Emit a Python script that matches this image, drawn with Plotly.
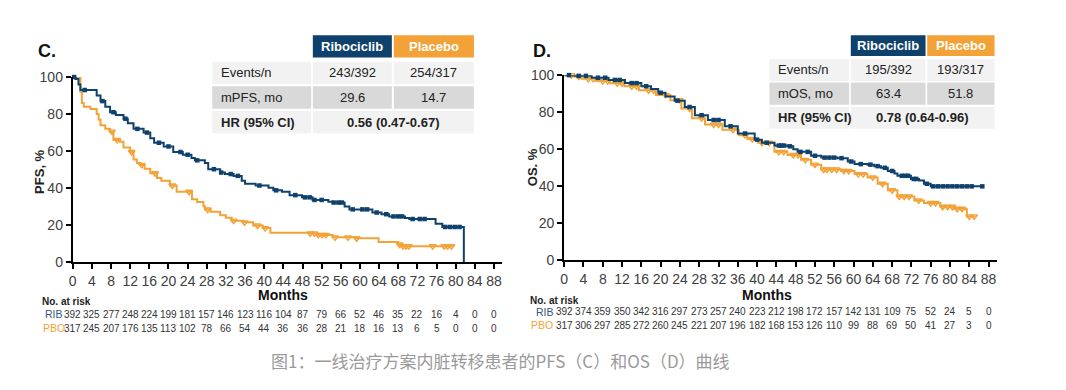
import numpy as np
import plotly.graph_objects as go

NAVY = "#0e416b"
ORANGE = "#f3a237"
W, H = 1066, 390

# ---------------- data ----------------
months_ticks = list(range(0, 89, 4))

pfs_rib_t = [0, 0.6, 1.2, 1.6, 5.0, 5.8, 6.8, 7.8, 9.0, 10.6, 11.5, 12.7, 14.8, 16.2, 17.0, 19.0, 21.0, 23.0, 24.8,
             25.5, 27.6, 28.3, 30.8, 31.8, 33.6, 35.3, 36.0, 38.2, 40.9, 41.9, 43.7, 45.3, 47.9, 50.1, 53.4, 54.3,
             56.8, 57.8, 62.6, 64.5, 66.1, 69.4, 70.3, 75.8, 77.2, 81.7, 81.7]
pfs_rib_s = [100, 99, 96, 93, 90, 87, 84, 81, 79.5, 77.5, 75, 72, 70, 67, 64.5, 62.5, 59.5, 58, 56.2,
             55, 53.6, 50.2, 48.4, 47.6, 46.6, 44, 42.3, 41.4, 40.2, 38.8, 38, 36.2, 35, 33.6, 32.6, 32.2,
             30, 28.5, 26.8, 25.9, 24.7, 23.8, 23.3, 20.7, 19, 19, 0]
pfs_rib_cens = [0.3, 2.5, 6.2, 8.5, 11, 13.5, 15.5, 18, 20, 22.5, 24, 26, 29.5, 31, 33, 34.5, 39, 42.5, 46.5,
                48.5, 49.5, 50.5, 52, 54.5, 55.5, 56.2, 58.5, 60.5, 61.5, 63.5, 65.5, 67, 68, 68.8, 71, 72.5,
                73.5, 77.8, 78.8, 79.8, 80.8]

pfs_pbo_t = [0, 1.6, 1.9, 2.3, 3.7, 5.0, 5.4, 5.8, 6.8, 7.8, 8.5, 9.9, 10.6, 12.0, 12.7, 13.4, 14.1, 15.0, 16.2,
             17.6, 18.5, 20.3, 21.7, 24.9, 26.0, 27.3, 27.6, 28.8, 30.8, 32.0, 33.2, 35.6, 37.7, 39.7, 41.3,
             49.5, 51.0, 54.3, 59.1, 63.9, 68.0, 68.8, 79.4]
pfs_pbo_s = [100, 92, 86, 84, 82.8, 80, 77, 74, 72, 70.5, 66, 65, 62, 59.5, 55.5, 53.5, 52.5, 50.5, 48,
             45.5, 44, 41.4, 38, 34, 32.5, 30.2, 28.4, 27.2, 25.3, 24, 22.4, 21.5, 19.8, 18.4, 15.9,
             15.5, 14.7, 13.4, 12.9, 10.9, 9.5, 8.6, 8.6]
pfs_pbo_cens = [8.2, 9.3, 12.3, 14.4, 17.2, 20.8, 24.3, 28.2, 33.6, 35.9, 38.6, 40.2, 49.6, 50.5, 51.3, 52.1,
                52.9, 54.8, 57.5, 59.3, 68.3, 69.0, 69.6, 70.2, 75.2, 77.6, 78.3, 79.1]

os_rib_t = [0, 2.3, 5.7, 9.2, 12.6, 16.0, 18.0, 19.5, 21.0, 22.9, 25.0, 27.1, 29.8, 33.3, 36.0, 39.5, 41.0, 43.6,
            46.3, 47.5, 48.4, 51.2, 53.3, 56.7, 58.8, 60.2, 62.9, 64.3, 65.7, 67.1, 68.5, 69.1, 71.9, 73.6,
            74.6, 76.0, 86.7]
os_rib_s = [100, 99.6, 98.6, 97.4, 95.7, 94, 92.5, 90.5, 88.5, 86.2, 82.8, 78.4, 75.8, 72.4, 68.5, 65.2, 63.5, 62,
            61.6, 60, 58.6, 56.5, 55.5, 55.2, 53.4, 52, 51.7, 50.9, 50, 48.3, 47, 45.7, 44, 43.1,
            41.4, 40, 40]
os_rib_cens = [1, 3, 4.5, 7, 8.5, 10.5, 11.5, 14, 15, 17, 20, 23.5, 26, 28.5, 31, 32, 34.5, 37.5, 40, 42,
               44.5, 45, 45.6, 46.8, 49, 50.5, 52, 54, 55, 56, 57.5, 59.5, 61.5, 63.5, 65, 66.5, 68, 70,
               70.7, 71.3, 72.5, 73, 75.2, 76.5, 77.5, 78.5, 79.5, 80.5, 81.5, 82.5, 83.5, 84.5, 86.7]

os_pbo_t = [0, 1.8, 3.6, 6.5, 9.5, 12.5, 15.5, 19.0, 22.0, 24.3, 26.5, 29.2, 32.8, 36.2, 38.0, 40.2, 43.6,
            46.3, 49.1, 51.2, 53.3, 57.4, 60.2, 62.9, 65.0, 67.1, 69.1, 72.6, 74.6, 78.0, 80.8, 83.2, 83.5,
            85.3]
os_pbo_s = [100, 99.2, 98, 96.8, 95.6, 94, 91.8, 89.3, 86.5, 82, 76.8, 73.3, 70.5, 67.6, 65.5, 63.5, 58.6,
            56.9, 54.3, 51.7, 49.1, 48.3, 46.6, 44.8, 41.4, 37.9, 34.5, 32.4, 31, 29, 27.9, 27.6, 23.8,
            23.8]
os_pbo_cens = [1.5, 3, 5, 6, 8, 9, 11, 12, 14, 15, 17.5, 18.5, 21, 24, 26, 28.5, 31, 32, 35, 37.5, 39, 41,
               42.5, 44.5, 45.5, 47.5, 48.5, 50, 52, 53.8, 54.5, 55.5, 56.5, 58, 59, 61, 62, 64, 66, 68,
               69.5, 70.5, 71.5, 73.5, 76, 77, 78.5, 79.5, 80.5, 81.5, 82.5, 84, 85]

risk_pfs_rib = [392, 325, 277, 248, 224, 199, 181, 157, 146, 123, 116, 104, 87, 79, 66, 52, 46, 35, 22, 16, 4, 0, 0]
risk_pfs_pbo = [317, 245, 207, 176, 135, 113, 102, 78, 66, 54, 44, 36, 36, 28, 21, 18, 16, 13, 6, 5, 0, 0, 0]
risk_os_rib = [392, 374, 359, 350, 342, 316, 297, 273, 257, 240, 223, 212, 198, 172, 157, 142, 131, 109, 75, 52, 24, 5, 0]
risk_os_pbo = [317, 306, 297, 285, 272, 260, 245, 221, 207, 196, 182, 168, 153, 126, 110, 99, 88, 69, 50, 41, 27, 3, 0]

table_cols = ["Ribociclib", "Placebo"]
pfs_rows = ["Events/n", "mPFS, mo", "HR (95% CI)"]
pfs_vals = [["243/392", "254/317"], ["29.6", "14.7"]]
pfs_hr = "0.56 (0.47-0.67)"
os_rows = ["Events/n", "mOS, mo", "HR (95% CI)"]
os_vals = [["195/392", "193/317"], ["63.4", "51.8"]]
os_hr = "0.78 (0.64-0.96)"

caption = "图1：一线治疗方案内脏转移患者的PFS（C）和OS（D）曲线"

# ---------------- figure ----------------
fig = go.Figure()


def step_at(t, s, c):
    t = np.asarray(t); s = np.asarray(s)
    idx = np.searchsorted(t, np.asarray(c), side="right") - 1
    return s[np.clip(idx, 0, len(s) - 1)]


def add_km(t, s, cens, color, sym, xa, ya):
    fig.add_trace(go.Scatter(x=t, y=s, mode="lines", line=dict(color=color, width=2, shape="hv"),
                             xaxis=xa, yaxis=ya, cliponaxis=False, showlegend=False, hoverinfo="skip"))
    if sym == "sq":
        mk = dict(symbol="square", size=4.5, color=color, line=dict(width=0))
    else:
        mk = dict(symbol="triangle-down-open", size=6, color=color, line=dict(width=1.4, color=color))
    fig.add_trace(go.Scatter(x=cens, y=step_at(t, s, cens), mode="markers", marker=mk,
                             xaxis=xa, yaxis=ya, cliponaxis=False, showlegend=False, hoverinfo="skip"))


add_km(pfs_pbo_t, pfs_pbo_s, pfs_pbo_cens, ORANGE, "tri", "x", "y")
add_km(pfs_rib_t, pfs_rib_s, pfs_rib_cens, NAVY, "sq", "x", "y")
add_km(os_pbo_t, os_pbo_s, os_pbo_cens, ORANGE, "tri", "x2", "y2")
add_km(os_rib_t, os_rib_s, os_rib_cens, NAVY, "sq", "x2", "y2")

FONT = "Liberation Sans, Arial, sans-serif"
NARROW = "Liberation Sans Narrow, Arial Narrow, Liberation Sans, Arial, sans-serif"

axis_common = dict(showline=True, linecolor="black", linewidth=2, ticks="outside", ticklen=5,
                   tickwidth=1.5, tickcolor="black", showgrid=False, zeroline=False,
                   tickfont=dict(family=FONT, size=14, color="#404040"))


def px(x):
    return x / W


def py(y):
    return 1 - y / H


fig.update_layout(
    width=W, height=H, margin=dict(l=0, r=0, t=0, b=0),
    paper_bgcolor="white", plot_bgcolor="white",
    xaxis=dict(domain=[px(69), px(500)], range=[0, 89.7], tickvals=months_ticks, anchor="y", **axis_common),
    yaxis=dict(domain=[py(265), py(72)], range=[0, 100], tickvals=[0, 20, 40, 60, 80, 100], anchor="x", **axis_common),
    xaxis2=dict(domain=[px(562.3), px(997)], range=[0, 89.8], tickvals=months_ticks, anchor="y2", **axis_common),
    yaxis2=dict(domain=[py(263.3), py(70)], range=[0, 100], tickvals=[0, 20, 40, 60, 80, 100], anchor="x2", **axis_common),
)

ann = []
shapes = []


def text(x, y, s, size=12, color="#222", bold=False, xanchor="center", family=FONT, angle=0, xref="paper", xshift=0):
    ann.append(dict(x=x if xref != "paper" else px(x), y=py(y), xref=xref, yref="paper", text=f"<b>{s}</b>" if bold else s,
                    showarrow=False, xanchor=xanchor, yanchor="middle", textangle=angle, xshift=xshift,
                    borderpad=0, font=dict(family=family, size=size, color=color)))


def rect(x0, y0, x1, y1, color):
    shapes.append(dict(type="rect", xref="paper", yref="paper", x0=px(x0), x1=px(x1), y0=py(y1), y1=py(y0),
                       fillcolor=color, line=dict(width=0), layer="below"))


def table(lx0, lx1, c1x0, c1x1, c2x0, c2x1, hy, rows_y, rows, vals, hr):
    rect(c1x0, hy[0], c1x1, hy[1], NAVY)
    rect(c2x0, hy[0], c2x1, hy[1], ORANGE)
    hm = (hy[0] + hy[1]) / 2
    text((c1x0 + c1x1) / 2, hm, table_cols[0], size=13, color="white", bold=True, family=NARROW)
    text((c2x0 + c2x1) / 2, hm, table_cols[1], size=13, color="white", bold=True, family=NARROW)
    fills = ["#f2f2f2", "#d9d9d9", "#f2f2f2"]
    for i, (y0, y1) in enumerate(rows_y):
        ym = (y0 + y1) / 2
        rect(lx0, y0, lx1, y1, fills[i])
        text(lx0 + 8, ym, rows[i], size=13, bold=(i == 2), xanchor="left", family=NARROW)
        if i < 2:
            rect(c1x0, y0, c1x1, y1, fills[i])
            rect(c2x0, y0, c2x1, y1, fills[i])
            text((c1x0 + c1x1) / 2, ym, vals[i][0], size=13, family=NARROW)
            text((c2x0 + c2x1) / 2, ym, vals[i][1], size=13, family=NARROW)
        else:
            rect(c1x0, y0, c2x1, y1, fills[i])
            text((c1x0 + c2x1) / 2, ym, hr, size=13, bold=True, family=NARROW)


table(209, 308.3, 310, 389.3, 391.3, 471.7, (28.3, 51.7),
      [(56, 79.3), (81.7, 105), (107.3, 130.7)], pfs_rows, pfs_vals, pfs_hr)
table(768.3, 848.3, 850, 925, 926.7, 994.3, (28.3, 50),
      [(53.3, 76), (77.7, 101), (103.3, 126)], os_rows, os_vals, os_hr)

# panel labels and axis titles
text(33, 45, "C.", size=18, color="#111", bold=True, xanchor="left")
text(530, 45, "D.", size=18, color="#111", bold=True, xanchor="left")
text(35, 170, "PFS, %", size=13, color="#222", bold=True, angle=-90)
text(530, 166, "OS. %", size=13, color="#222", bold=True, angle=-90)
text(280, 299, "Months", size=14, color="#111", bold=True)
text(766, 299, "Months", size=14, color="#111", bold=True)
text(37, 306, "No. at risk", size=10, color="#222", bold=True, xanchor="left")
text(527, 305, "No. at risk", size=10, color="#222", bold=True, xanchor="left")


def risk_row(vals, xref, y, label, lcolor, lshift):
    for m, v in zip(months_ticks, vals):
        text(m, y, str(v), size=10, color="#333", xref=xref, family=NARROW)
    text(0, y, label, size=10.5, color=lcolor, xref=xref, xanchor="right", xshift=lshift, family=NARROW)


risk_row(risk_pfs_rib, "x", 319.5, "RIB", "#35557f", -9)
risk_row(risk_pfs_pbo, "x", 334, "PBO", ORANGE, -7)
risk_row(risk_os_rib, "x2", 316.5, "RIB", "#35557f", -9)
risk_row(risk_os_pbo, "x2", 331, "PBO", ORANGE, -10)

text(498, 368, caption, size=17, color="#9a9a9a", family="Noto Sans CJK SC, sans-serif")

fig.update_layout(annotations=ann, shapes=shapes)
fig.write_html("out.html", config={"displayModeBar": False},
               post_script="document.body.style.margin='0';")
